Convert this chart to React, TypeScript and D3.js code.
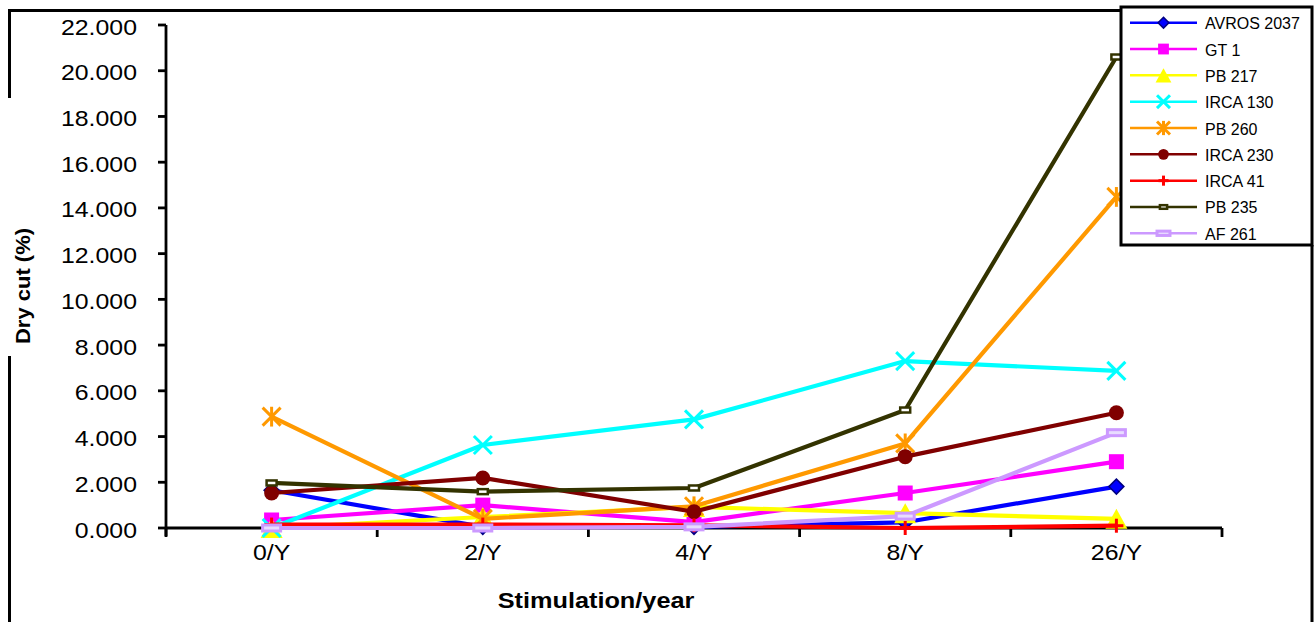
import React from 'react';
import * as d3 from 'd3';

const categories = ['0/Y', '2/Y', '4/Y', '8/Y', '26/Y'];
const seriesNames = ['AVROS 2037', 'GT 1', 'PB 217', 'IRCA 130', 'PB 260', 'IRCA 230', 'IRCA 41', 'PB 235', 'AF 261'];
const avros2037 = [1.65, 0.05, 0.05, 0.25, 1.81];
const gt1 = [0.35, 1.0, 0.26, 1.53, 2.9];
const pb217 = [0, 0.48, 0.92, 0.65, 0.4];
const irca130 = [0, 3.63, 4.75, 7.3, 6.87];
const pb260 = [4.87, 0.4, 0.95, 3.7, 14.48];
const irca230 = [1.53, 2.19, 0.71, 3.12, 5.04];
const irca41 = [0.15, 0.15, 0.12, 0.0, 0.1];
const pb235 = [1.97, 1.59, 1.75, 5.16, 20.6];
const af261 = [0, 0, 0.05, 0.52, 4.17];
const yTicks = [0, 2, 4, 6, 8, 10, 12, 14, 16, 18, 20, 22];
const yLabel = 'Dry cut (%)';
const xLabel = 'Stimulation/year';

const seriesValues = [avros2037, gt1, pb217, irca130, pb260, irca230, irca41, pb235, af261];
const colors = ['#0000FF', '#FF00FF', '#FFFF00', '#00FFFF', '#FF9900', '#800000', '#FF0000', '#333300', '#CC99FF'];
const markers = ['diamond', 'square', 'triangle', 'x', 'asterisk', 'circle', 'plus', 'shortdash', 'longdash'];

const FONT = '"Liberation Sans", Arial, sans-serif';

function Marker({ type, color, cx, cy, k }: { type: string; color: string; cx: number; cy: number; k: number }) {
  switch (type) {
    case 'diamond': {
      const h = 7.5 * k;
      return <path d={`M${cx},${cy - h}L${cx + h},${cy}L${cx},${cy + h}L${cx - h},${cy}Z`} fill={color} stroke="#000080" strokeWidth={1.5} />;
    }
    case 'square': {
      const h = 7.5 * k;
      return <rect x={cx - h} y={cy - h} width={2 * h} height={2 * h} fill={color} />;
    }
    case 'triangle': {
      const w = 11 * k;
      const hh = 10 * k;
      return <path d={`M${cx},${cy - hh}L${cx + w},${cy + hh}L${cx - w},${cy + hh}Z`} fill={color} />;
    }
    case 'x': {
      const h = 9 * k;
      return (
        <g stroke={color} strokeWidth={3}>
          <line x1={cx - h} y1={cy - h} x2={cx + h} y2={cy + h} />
          <line x1={cx - h} y1={cy + h} x2={cx + h} y2={cy - h} />
        </g>
      );
    }
    case 'asterisk': {
      const h = 9 * k;
      return (
        <g stroke={color} strokeWidth={3}>
          <line x1={cx - h} y1={cy - h} x2={cx + h} y2={cy + h} />
          <line x1={cx - h} y1={cy + h} x2={cx + h} y2={cy - h} />
          <line x1={cx} y1={cy - h * 1.1} x2={cx} y2={cy + h * 1.1} />
        </g>
      );
    }
    case 'circle':
      return <circle cx={cx} cy={cy} r={7.5 * k} fill={color} />;
    case 'plus': {
      const h = 7 * k;
      return (
        <g stroke={color} strokeWidth={3}>
          <line x1={cx} y1={cy - h} x2={cx} y2={cy + h} />
          <line x1={cx - h} y1={cy} x2={cx + h} y2={cy} />
        </g>
      );
    }
    case 'shortdash': {
      const w = 5 * k;
      const h = 2.5 * k;
      return <rect x={cx - w} y={cy - h} width={2 * w} height={2 * h} fill="#ffffff" stroke={color} strokeWidth={2.5} />;
    }
    case 'longdash': {
      const w = 9 * k;
      const h = 3 * k;
      return <rect x={cx - w} y={cy - h} width={2 * w} height={2 * h} fill="#e8dcff" stroke={color} strokeWidth={3} />;
    }
    default:
      return null;
  }
}

export default function App() {
  const x = d3.scaleBand<string>().domain(categories).range([166, 1222]).paddingInner(0).paddingOuter(0);
  const y = d3.scaleLinear().domain([0, 22]).range([528, 25]);
  const cx = (c: string) => (x(c) as number) + x.bandwidth() / 2;
  const line = d3
    .line<number>()
    .x((_, i) => cx(categories[i]))
    .y((v) => y(v));

  const boundaries = categories.map((c) => x(c) as number).concat([x.range()[1]]);

  const legendX = 1121;
  const legendY = 7;
  const legendW = 191;
  const legendH = 238;
  const rowY = d3.scalePoint<string>().domain(seriesNames).range([22.7, 233.3]);

  return (
    <svg width={1315} height={622} style={{ position: 'absolute', left: 0, top: 0, display: 'block', background: '#fff' }} fontFamily={FONT}>
      <rect x={0} y={0} width={1315} height={622} fill="#fff" />
      {/* outer frame */}
      <path d={`M9.5,98V10.5H${legendX}`} fill="none" stroke="#000" strokeWidth={3} />
      <path d={`M9.5,356V622`} fill="none" stroke="#000" strokeWidth={3} />
      <path d={`M1312,${legendY + legendH}V622`} fill="none" stroke="#000" strokeWidth={3} />

      {/* y axis */}
      <line x1={166} y1={y(22)} x2={166} y2={y(0) + 8} stroke="#000" strokeWidth={2.8} />
      {yTicks.map((t) => (
        <g key={t}>
          <line x1={158} x2={166} y1={y(t)} y2={y(t)} stroke="#000" strokeWidth={2.8} />
          <text transform={`translate(137,${y(t) + 9.5}) scale(1.13,1)`} textAnchor="end" fontSize={22} fill="#000">
            {d3.format('.3f')(t)}
          </text>
        </g>
      ))}
      {/* x axis */}
      <line x1={166} y1={y(0)} x2={1222} y2={y(0)} stroke="#000" strokeWidth={2.8} />
      {boundaries.map((b, i) => (
        <line key={i} x1={b} x2={b} y1={y(0)} y2={y(0) + 9} stroke="#000" strokeWidth={2.8} />
      ))}
      {categories.map((c) => (
        <text key={c} transform={`translate(${cx(c)},560) scale(1.13,1)`} textAnchor="middle" fontSize={22} fill="#000">
          {c}
        </text>
      ))}

      {/* axis titles */}
      <text transform={`translate(596,608) scale(1.15,1)`} textAnchor="middle" fontSize={22} fontWeight="bold" fill="#000">
        {xLabel}
      </text>
      <text transform={`translate(29.5,286) rotate(-90) scale(1.1,1)`} textAnchor="middle" fontSize={20} fontWeight="bold" fill="#000">
        {yLabel}
      </text>

      {/* series */}
      {seriesValues.map((vals, si) => (
        <g key={seriesNames[si]}>
          <path d={line(vals) || ''} fill="none" stroke={colors[si]} strokeWidth={4.2} strokeLinejoin="round" />
          {vals.map((v, i) => (
            <Marker key={i} type={markers[si]} color={colors[si]} cx={cx(categories[i])} cy={y(v)} k={1} />
          ))}
        </g>
      ))}

      {/* legend */}
      <rect x={legendX} y={legendY} width={legendW} height={legendH} fill="#fff" stroke="#000" strokeWidth={3} />
      {seriesNames.map((n, si) => {
        const ry = rowY(n) as number;
        return (
          <g key={n}>
            <line x1={1130} x2={1197} y1={ry} y2={ry} stroke={colors[si]} strokeWidth={2.5} />
            <Marker type={markers[si]} color={colors[si]} cx={1163.5} cy={ry} k={0.72} />
            <text x={1205} y={ry + 6.5} fontSize={16} fill="#000">
              {n}
            </text>
          </g>
        );
      })}
    </svg>
  );
}
